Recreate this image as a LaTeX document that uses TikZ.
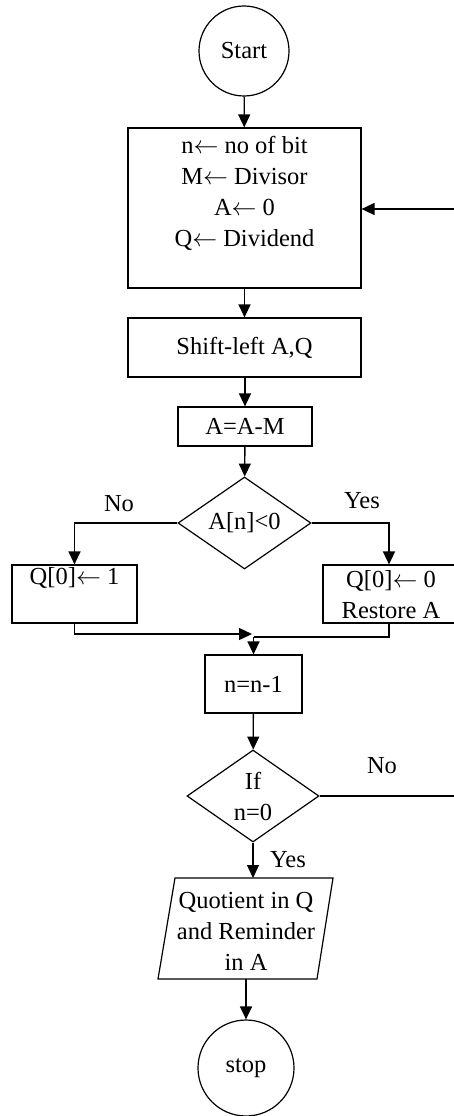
\documentclass[tikz,border=0pt]{standalone}
\usepackage{fontspec}
\setmainfont{Liberation Serif}
\usetikzlibrary{shapes.geometric,arrows.meta}
\newcommand{\lar}{$\leftarrow$}
\begin{document}
\begin{tikzpicture}[x=1pt,y=-1pt,
  every node/.style={font=\fontsize{24.5}{31}\selectfont, inner sep=0pt},
  fbox/.style={draw, line width=1.2pt},
  txt/.style={align=center},
  conn/.style={line width=1.3pt, -{Triangle[length=13pt,width=12pt]}},
  plain/.style={line width=1.3pt},
  lbl/.style={}]
\useasboundingbox (0,0) rectangle (454,1116);
% shapes
\node[fbox, circle, minimum size=90pt] (start) at (244,51) {Start};
\node[fbox, rectangle, minimum width=233pt, minimum height=160pt] (b1) at (244.5,208) {};
\node[txt] (b1t) at (244.5,193) {n\lar\ no of bit\\ M\lar\ Divisor\\ A\lar\ 0\\ Q\lar\ Dividend};
\node[fbox, rectangle, minimum width=233pt, minimum height=59pt] (b2) at (244.5,347.5) {Shift-left A,Q};
\node[fbox, rectangle, minimum width=134pt, minimum height=39pt] (b3) at (245,426.5) {A=A-M};
\node[fbox, diamond, minimum width=133pt, minimum height=92pt] (d1) at (244.5,523) {};
\node[txt] (d1t) at (244.5,523) {A[n]<0};
\node[fbox, rectangle, minimum width=125pt, minimum height=58pt] (q1) at (74.5,594) {};
\node[txt] (q1t) at (74.5,578) {Q[0]\lar\ 1};
\node[fbox, rectangle, minimum width=136pt, minimum height=58pt] (q0) at (391,594) {};
\node[txt] (q0t) at (391,594.5) {Q[0]\lar\ 0\\ Restore A};
\node[fbox, rectangle, minimum width=97pt, minimum height=58pt] (b4) at (253.5,684) {n=n-1};
\node[fbox, diamond, minimum width=132pt, minimum height=92pt] (d2) at (253,796) {};
\node[txt] (d2t) at (253,796.5) {If\\ n=0};
\draw[line width=1.2pt] (175,878) coordinate (pTL) -- (333,878) -- (317,979) -- (158,979) -- cycle;
\coordinate (pTop) at (254,878);
\coordinate (pBot) at (246,979);
\node[txt] (pt) at (246,931) {Quotient in Q\\ and Reminder\\ in A};
\node[fbox, circle, minimum size=96pt] (stop) at (246,1068) {stop};
% labels
\node[lbl] (no1) at (119,504) {No};
\node[lbl] (yes1) at (362,501) {Yes};
\node[lbl] (no2) at (382,766) {No};
\node[lbl] (yes2) at (288,860) {Yes};
% connectors
\draw[conn] (start) -- (b1);
\draw[conn] (b1) -- (b2);
\draw[conn] (b2.south -| b3) -- (b3);
\draw[conn] (b3) -- (d1);
\draw[conn] (d1.west) -| (q1.north);
\draw[conn] (d1.east) -| (q0.north -| 389,0);
\coordinate (mL) at (252,634);
\coordinate (mR) at (389,637);
\draw[conn] (q1.south) |- (mL);
\draw[plain] (q0.south -| mR) -- (mR) -- (mR -| b4);
\draw[conn] (mR -| b4) -- (b4.north);
\draw[conn] (b4) -- (d2);
\coordinate (loopB) at (457,796);
\coordinate (loopT) at (457,209);
\draw[conn] (d2.east) -- (loopB) -- (loopT) -- (b1.east |- loopT);
\draw[conn] (d2.south) -- (d2.south |- pTop);
\draw[conn] (pBot) -- (pBot |- stop.north);
\end{tikzpicture}
\end{document}
